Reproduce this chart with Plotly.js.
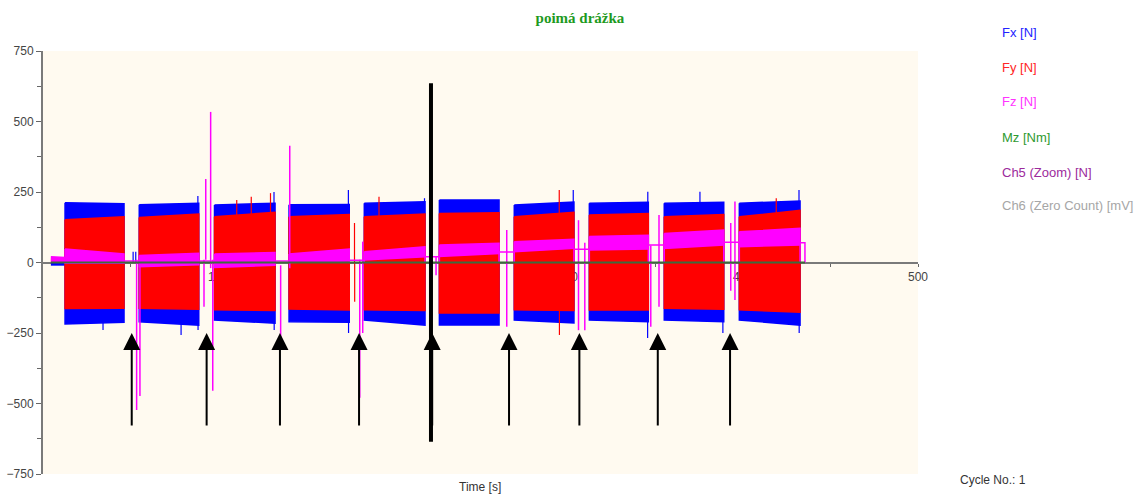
<!DOCTYPE html>
<html><head><meta charset="utf-8">
<script src="https://cdn.plot.ly/plotly-3.0.1.min.js"></script>
<style>html,body{margin:0;padding:0;background:#fff}#chart{width:1146px;height:495px}</style>
</head><body><div id="chart"></div>
<script>
// ---- data ----
const segStart = [12.6, 55.0, 98.0, 140.6, 183.6, 226.5, 269.3, 312.2, 355.0, 397.9];
const segEnd   = [46.3, 89.0, 132.6, 175.0, 218.3, 260.6, 303.4, 345.9, 389.0, 432.6];

const fxTopS = [212, 205, 204, 205, 210, 222, 204, 210, 210, 210];
const fxTopE = [208, 210, 210, 206, 215, 222, 214, 214, 214, 218];
const fxBotS = [-218, -210, -204, -210, -204, -222, -204, -204, -204, -204];
const fxBotE = [-212, -222, -215, -212, -222, -222, -214, -210, -210, -222];

const fyTopS = [152, 160, 162, 162, 162, 174, 162, 168, 162, 162];
const fyTopE = [162, 172, 178, 170, 172, 176, 178, 174, 170, 185];
const fyBotS = [-163, -162, -168, -165, -168, -179, -168, -168, -162, -168];
const fyBotE = [-162, -166, -170, -168, -170, -179, -170, -168, -166, -176];

const fzTopS = [48, 25, 30, 30, 38, 62, 74, 92, 103, 109];
const fzTopE = [30, 33, 35, 48, 56, 68, 82, 97, 115, 121];
const fzBotS = [-3, -15, -18, 0, 9, 21, 38, 44, 50, 56];
const fzBotE = [-3, -8, -10, 5, 20, 32, 50, 48, 62, 62];

// level of Fz between cycles (gap i lies between segment i and i+1; last = tail)
const fzGap = [5, 5, 5, 8, 20, 37, 47, 62, 72, 70];
const fzTailEnd = 435.4;

// lead-in before first cycle
const preT  = [4.5, 12.6];
const preFz = [20, 18];
const preFy = [8, 8];
const preFx = [-6, -6];

// isolated spikes
const fxSpikeT = [34.3, 78.9, 88.5, 88.6, 132.0, 132.1, 174.5, 174.6, 218.0, 303.0, 345.5, 345.6, 375.4, 388.5, 432.0, 432.1, 51.5, 53.0];
const fxSpikeV = [-239, -257, 236, -239, 250, -239, 257, -250, 228, 257, -268, 251, 251, -250, 257, -250, 38, 38];
const fySpikeT = [110.7, 119.0, 130.0, 192.0, 295.0, 295.1, 419.0, 178.0, 178.1];
const fySpikeV = [222, 233, 246, 233, 257, -257, 228, 140, -139];
const fzSpikeT  = [53.5, 55.4, 92.0, 93.0, 95.8, 97.0, 135.8, 141.0, 181.0, 182.7, 224.6, 265.0, 306.0, 309.6, 347.3, 352.0, 393.0, 395.4];
const fzSpikeLo = [-523, -473, -157, 10, -20, -455, -275, -20, -480, -250, -45, -228, -240, -240, -228, -157, -100, -133];
const fzSpikeHi = [10, 10, 10, 296, 534, 10, -10, 414, 10, 74, 20, 115, 150, 70, 60, 168, 140, 216];

const mzT = [4.5, 435.4];
const mzV = [0, 0];

const markerT = 221.7;          // thick vertical marker
const markerV = [-636, 636];
const arrowT = [50.7, 93.5, 135.4, 180.6, 222.4, 266.3, 306.5, 351.3, 392.6];
const arrowV = -250;

const legendNames  = ['Fx [N]', 'Fy [N]', 'Fz [N]', 'Mz [Nm]', 'Ch5 (Zoom) [N]', 'Ch6 (Zero Count) [mV]'];
const legendColors = ['#2323ff', '#ff2626', '#ff33ff', '#2f9a2f', '#9c2a9c', '#a6a6a6'];

// ---- build traces ----
function bands(top0, top1, bot0, bot1) {
  const x = [], y = [];
  for (let i = 0; i < segStart.length; i++) {
    x.push(segStart[i], segEnd[i], segEnd[i], segStart[i], segStart[i], null);
    y.push(top0[i], top1[i], bot1[i], bot0[i], top0[i], null);
  }
  return {x, y};
}
function spikes(ts, lo, hi) {
  const x = [], y = [];
  for (let i = 0; i < ts.length; i++) { x.push(ts[i], ts[i], null); y.push(lo[i], hi[i], null); }
  return {x, y};
}
const fx = bands(fxTopS, fxTopE, fxBotS, fxBotE);
const fy = bands(fyTopS, fyTopE, fyBotS, fyBotE);
const fz = bands(fzTopS, fzTopE, fzBotS, fzBotE);
const zeros = n => new Array(n).fill(0);
const fxSp = spikes(fxSpikeT, zeros(fxSpikeT.length), fxSpikeV);
const fySp = spikes(fySpikeT, zeros(fySpikeT.length), fySpikeV);
const fzSp = spikes(fzSpikeT, fzSpikeLo, fzSpikeHi);

const gx = [], gy = [];
for (let i = 0; i < fzGap.length; i++) {
  const a = segEnd[i];
  const b = i + 1 < segStart.length ? segStart[i + 1] : fzTailEnd;
  gx.push(a, a, b, b, null); gy.push(0, fzGap[i], fzGap[i], 0, null);
}

const BLUE = '#0000ff', RED = '#ff0000', MAG = '#ff00ff';
const traces = [
  {x: fx.x, y: fx.y, mode: 'lines', fill: 'toself', fillcolor: BLUE, line: {color: BLUE, width: 1.5}, name: 'Fx [N]'},
  {x: fxSp.x, y: fxSp.y, mode: 'lines', line: {color: BLUE, width: 1.2}, name: 'Fx [N]'},
  {x: preT, y: preFx, mode: 'lines', line: {color: BLUE, width: 3}, name: 'Fx [N]'},
  {x: fy.x, y: fy.y, mode: 'lines', fill: 'toself', fillcolor: RED, line: {color: RED, width: 1.5}, name: 'Fy [N]'},
  {x: fySp.x, y: fySp.y, mode: 'lines', line: {color: RED, width: 1.2}, name: 'Fy [N]'},
  {x: preT, y: preFy, mode: 'lines', line: {color: RED, width: 4}, name: 'Fy [N]'},
  {x: fz.x, y: fz.y, mode: 'lines', fill: 'toself', fillcolor: MAG, line: {color: MAG, width: 1.5}, name: 'Fz [N]'},
  {x: gx, y: gy, mode: 'lines', line: {color: MAG, width: 1.5}, name: 'Fz [N]'},
  {x: fzSp.x, y: fzSp.y, mode: 'lines', line: {color: MAG, width: 1.5}, name: 'Fz [N]'},
  {x: preT, y: preFz, mode: 'lines', fill: 'tozeroy', fillcolor: MAG, line: {color: MAG, width: 1.5}, name: 'Fz [N]'},
  {x: mzT, y: mzV, mode: 'lines', line: {color: '#3d6b3d', width: 2}, name: 'Mz [Nm]'}
];

// ---- layout helpers (pixel -> paper) ----
const W = 1146, H = 495, ML = 43, MR = 228, MT = 51, MB = 21;
const px = v => (v - ML) / (W - ML - MR);
const py = v => (H - MB - v) / (H - MT - MB);

const annotations = [];
legendNames.forEach((n, i) => {
  annotations.push({xref: 'paper', yref: 'paper', x: px(1000), y: py([33, 67, 102, 137, 172, 205][i]),
    xanchor: 'left', yanchor: 'middle', showarrow: false, text: n,
    font: {family: 'Liberation Sans, Arial', size: 13, color: legendColors[i]}});
});
annotations.push({xref: 'paper', yref: 'paper', x: px(958), y: py(480), xanchor: 'left', yanchor: 'middle',
  showarrow: false, text: 'Cycle No.: 1', font: {family: 'Liberation Sans, Arial', size: 12, color: '#333'}});
annotations.push({xref: 'paper', yref: 'paper', x: px(480), y: py(487), xanchor: 'center', yanchor: 'middle',
  showarrow: false, text: 'Time [s]', font: {family: 'Liberation Sans, Arial', size: 12, color: '#333'}});
arrowT.forEach(t => {
  annotations.push({x: t, y: arrowV, xref: 'x', yref: 'y', text: '', showarrow: true, ax: 0, ay: 94,
    arrowhead: 2, arrowsize: 1.7, arrowwidth: 2, arrowcolor: '#000', standoff: 0});
});

const layout = {
  width: W, height: H,
  margin: {l: ML, r: MR, t: MT, b: MB, pad: 0},
  paper_bgcolor: '#ffffff', plot_bgcolor: '#fffaf0',
  showlegend: false,
  title: {text: 'poimá drážka', x: 580 / W, xanchor: 'center', y: 1 - 18 / H, yanchor: 'middle',
    font: {family: 'Liberation Serif, Times New Roman', size: 15, color: '#1e9a1e', weight: 'bold'}},
  xaxis: {range: [0, 500], anchor: 'free', position: 0.5, layer: 'below traces',
    showline: true, linecolor: '#7a7a7a', linewidth: 2, showgrid: false, zeroline: false,
    tickvals: [100, 200, 300, 400, 500], ticktext: ['100', '200', '300', '400', '500'],
    ticks: 'outside', ticklen: 3, tickcolor: '#666', tickwidth: 1,
    minor: {tickvals: [50, 150, 250, 350, 450], ticks: 'outside', ticklen: 3, tickcolor: '#666'},
    tickfont: {family: 'Liberation Sans, Arial', size: 12, color: '#444'}, fixedrange: true},
  yaxis: {range: [-750, 750], showline: true, linecolor: '#7a7a7a', linewidth: 2, showgrid: false, zeroline: false,
    tickvals: [-750, -500, -250, 0, 250, 500, 750], ticks: 'outside', ticklen: 5, tickcolor: '#666',
    minor: {tickvals: [-625, -375, -125, 125, 375, 625], ticks: 'outside', ticklen: 4, tickcolor: '#666'},
    tickfont: {family: 'Liberation Sans, Arial', size: 12, color: '#444'}, fixedrange: true},
  shapes: [{type: 'line', xref: 'x', yref: 'y', x0: markerT, x1: markerT, y0: markerV[0], y1: markerV[1],
    line: {color: '#000', width: 4}, layer: 'above'}],
  annotations: annotations
};

Plotly.newPlot('chart', traces, layout, {staticPlot: true, displayModeBar: false});
</script>
</body></html>
